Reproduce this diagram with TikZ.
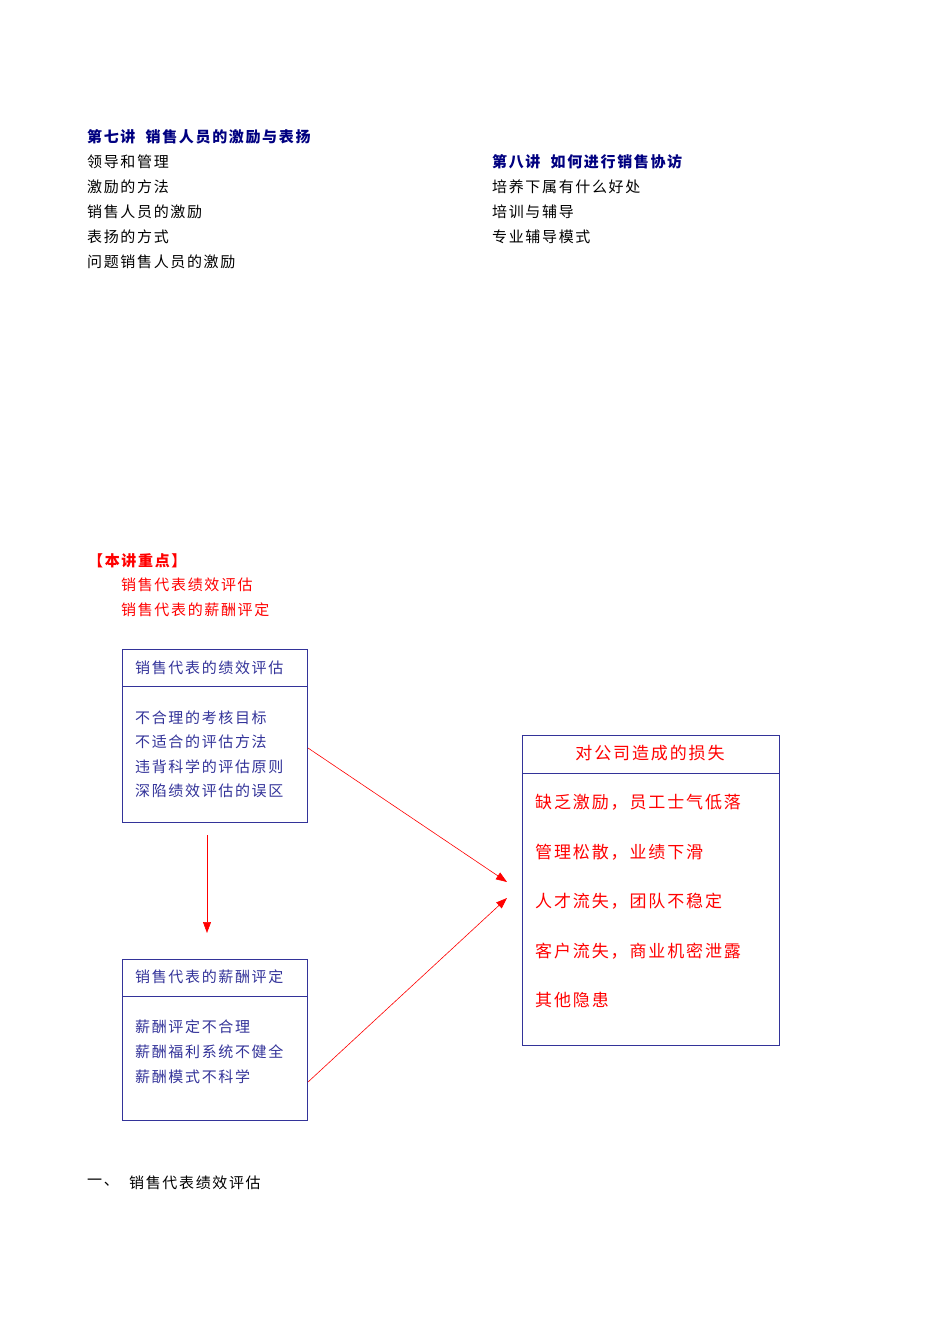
\documentclass[tikz,border=0pt]{standalone}
\usepackage{fontspec}
\setmainfont[LetterSpace=11]{Noto Sans CJK SC}
\usetikzlibrary{arrows.meta}
\definecolor{hd}{HTML}{000080}
\definecolor{bx}{HTML}{333399}
\definecolor{rd}{HTML}{FF0000}
\begin{document}
\begin{tikzpicture}[x=1pt,y=-1pt,
  txt/.style={anchor=west,inner sep=0pt,font=\fontsize{15}{17}\selectfont},
  head/.style={txt,text=hd,font=\fontsize{15}{17}\selectfont\bfseries},
  btxt/.style={txt,text=bx},
  rtxt/.style={txt,text=rd},
  big/.style={rtxt,font=\fontsize{17}{19}\selectfont},
  frame/.style={draw=bx,line width=0.9pt},
  arr/.style={draw=rd,line width=0.6pt,-{Triangle[length=11pt,width=8pt]}}]
\useasboundingbox (0,0) rectangle (950,1344);
% top columns
\node[head] (h7) at (87,137) {第七讲\ \ 销售人员的激励与表扬};
\node[txt] (l1) at (87,162) {领导和管理};
\node[txt] (l2) at (87,187) {激励的方法};
\node[txt] (l3) at (87,212) {销售人员的激励};
\node[txt] (l4) at (87,237) {表扬的方式};
\node[txt] (l5) at (87,262) {问题销售人员的激励};
\node[head] (h8) at (492,162) {第八讲\ \ 如何进行销售协访};
\node[txt] (r1) at (492,187) {培养下属有什么好处};
\node[txt] (r2) at (492,212) {培训与辅导};
\node[txt] (r3) at (492,237) {专业辅导模式};
% key points
\node[rtxt,font=\fontsize{15}{17}\selectfont\bfseries] (kp) at (88,561) {【本讲重点】};
\node[rtxt] (k1) at (121,585) {销售代表绩效评估};
\node[rtxt] (k2) at (121,610) {销售代表的薪酬评定};
% box 1
\draw[frame] (122,649) rectangle (307,822);
\draw[frame] (122,686) -- (307,686);
\node[btxt] (b1t) at (135,668) {销售代表的绩效评估};
\node[btxt] (b1a) at (135,718) {不合理的考核目标};
\node[btxt] (b1b) at (135,742) {不适合的评估方法};
\node[btxt] (b1c) at (135,767) {违背科学的评估原则};
\node[btxt] (b1d) at (135,791) {深陷绩效评估的误区};
% box 2
\draw[frame] (122,959) rectangle (307,1120);
\draw[frame] (122,996) -- (307,996);
\node[btxt] (b2t) at (135,977) {销售代表的薪酬评定};
\node[btxt] (b2a) at (135,1027) {薪酬评定不合理};
\node[btxt] (b2b) at (135,1052) {薪酬福利系统不健全};
\node[btxt] (b2c) at (135,1077) {薪酬模式不科学};
% box 3
\draw[frame] (522,735) rectangle (779,1045);
\draw[frame] (522,773) -- (779,773);
\node[inner sep=0pt,text=rd,font=\fontsize{17}{19}\selectfont] (b3t) at (650,753) {对公司造成的损失};
\node[big] (b3a) at (535,802) {缺乏激励，员工士气低落};
\node[big] (b3b) at (535,852) {管理松散，业绩下滑};
\node[big] (b3c) at (535,901) {人才流失，团队不稳定};
\node[big] (b3d) at (535,951) {客户流失，商业机密泄露};
\node[big] (b3e) at (535,1000) {其他隐患};
% arrows
\coordinate (v1) at (207,835); \coordinate (v2) at (207,933);
\coordinate (p1) at (308,748); \coordinate (p2) at (507,882);
\coordinate (q1) at (308,1082); \coordinate (q2) at (507,898);
\draw[arr] (v1) -- (v2);
\draw[arr] (p1) -- (p2);
\draw[arr] (q1) -- (q2);
% section
\node[txt] (s0) at (87,1183) {一、};
\node[txt] (s1) at (129,1183) {销售代表绩效评估};
\end{tikzpicture}
\end{document}
